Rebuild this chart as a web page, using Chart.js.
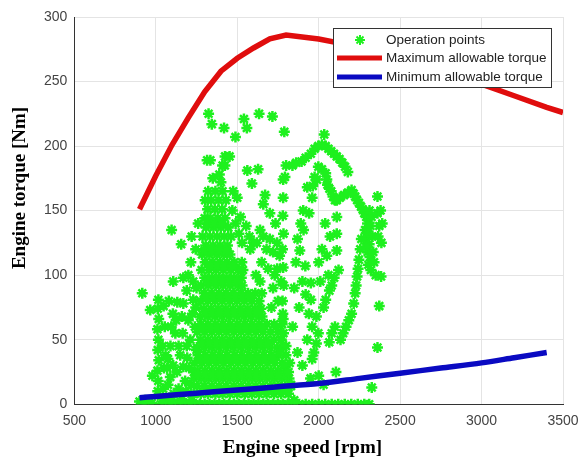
<!DOCTYPE html>
<html>
<head>
<meta charset="utf-8">
<script src="https://cdn.jsdelivr.net/npm/chart.js@4.4.1/dist/chart.umd.min.js"></script>
<style>
  body { margin: 0; background: #fff; }
</style>
</head>
<body>
<canvas id="myChart" width="580" height="459"></canvas>
<script>
// tick values
const speedTicks = [500, 1000, 1500, 2000, 2500, 3000, 3500];
const torqueTicks = [0, 50, 100, 150, 200, 250, 300];

// maximum allowable torque curve
const maxSpeed = [900, 1000, 1100, 1200, 1300, 1400, 1500, 1600, 1700, 1800, 2000, 2200, 2400, 2600, 2800, 3000, 3200, 3400, 3500];
const maxTorque = [151, 177, 201, 222, 242, 258, 268, 276, 283, 286, 283, 278, 272, 265, 257, 248, 239, 230, 226];

// minimum allowable torque curve
const minSpeed = [900, 1000, 1250, 1500, 1750, 2000, 2250, 2500, 2750, 3000, 3200, 3400];
const minTorque = [5, 6, 8.5, 11, 13.5, 16, 20, 24, 28, 32, 36, 40];

// operation points [speed, torque]
const opPoints = [
  // bottom row
  [900,2],[915,0],[935,3],[955,0],[975,1],[1030,0],[1060,0],[1090,0],[1120,0],[1150,0],
  [1180,0],[1210,0],[1240,0],[1270,0],[1300,0],[1330,0],[1360,0],[1390,0],[1420,0],[1450,0],
  [1480,0],[1510,0],[1540,0],[1570,0],[1600,0],[1630,0],[1660,0],[1690,0],[1720,0],[1750,0],
  [1780,0],[1810,0],[1840,0],[1880,0],[1920,0],[1960,0],[2000,0],[2040,0],[2080,0],[2120,0],
  [2160,0],[2200,0],[2240,0],[2280,0],[2310,0],
  [1040,4],[1100,3],[1160,4],[1220,3],[1850,3],
  // left column
  [1012,10],[1015,18],[1010,26],[1018,34],[1012,42],[1016,50],[1010,58],[1018,66],[1012,74],[1016,81],
  [1045,12],[1050,28],[1042,45],[1055,60],[1048,76],[1060,38],
  // scattered left
  [917,86],[966,73],[979,22],[1089,21],[1107,30],[1169,29],[1150,38],[1193,36],[1212,50],[1200,65],
  [1132,79],[1169,78],[1230,81],[1107,95],[1169,98],[1097,135],[1156,124],[1120,55],[1090,45],[1140,12],
  [1180,18],[1235,25],[1250,42],[1105,70],[1240,60],[1190,88],
  [1075,15],[1110,8],[1130,25],[1075,35],[1095,60],[1140,45],[1165,55],[1185,10],[1205,28],[1215,15],
  [1190,45],[1160,68],[1225,70],[1080,80],[1125,65],[1200,100],[1215,110],[1230,95],[1245,120],[1220,130],
  [1260,140],[1250,90],[1245,75],[1070,28],[1085,5],
  // dense core
  [1232,8],[1276,8],[1320,8],[1366,8],[1410,8],[1455,8],[1500,8],[1546,8],[1590,8],[1634,8],[1680,8],[1726,8],[1770,8],[1815,8],
  [1254,14],[1298,14],[1343,14],[1388,14],[1432,14],[1478,14],[1522,14],[1568,14],[1612,14],[1657,14],[1702,14],[1748,14],[1793,14],[1830,14],
  [1235,20],[1280,20],[1324,20],[1369,20],[1413,20],[1458,20],[1503,20],[1549,20],[1593,20],[1638,20],[1683,20],[1728,20],[1774,20],[1818,20],
  [1256,26],[1301,26],[1346,26],[1390,26],[1435,26],[1481,26],[1526,26],[1570,26],[1615,26],[1660,26],[1706,26],[1751,26],[1796,26],
  [1238,32],[1283,32],[1327,32],[1372,32],[1416,32],[1462,32],[1506,32],[1551,32],[1596,32],[1641,32],[1686,32],[1731,32],[1777,32],[1822,32],
  [1259,38],[1304,38],[1349,38],[1393,38],[1438,38],[1484,38],[1529,38],[1574,38],[1618,38],[1663,38],[1709,38],[1754,38],[1799,38],
  [1252,44],[1297,44],[1342,44],[1386,44],[1431,44],[1476,44],[1521,44],[1566,44],[1611,44],[1656,44],[1701,44],[1746,44],[1782,44],
  [1274,50],[1319,50],[1364,50],[1408,50],[1453,50],[1499,50],[1543,50],[1588,50],[1633,50],[1678,50],[1724,50],[1768,50],
  [1255,56],[1300,56],[1345,56],[1389,56],[1434,56],[1479,56],[1524,56],[1569,56],[1614,56],[1659,56],[1704,56],[1750,56],
  [1277,62],[1322,62],[1367,62],[1411,62],[1456,62],[1502,62],[1546,62],[1591,62],[1636,62],[1681,62],[1727,62],[1776,62],
  [1272,68],[1317,68],[1362,68],[1406,68],[1451,68],[1497,68],[1541,68],[1586,68],[1631,68],[1652,68],
  [1294,74],[1339,74],[1384,74],[1428,74],[1473,74],[1519,74],[1563,74],[1608,74],[1645,74],
  [1275,80],[1320,80],[1365,80],[1409,80],[1454,80],[1500,80],[1544,80],[1589,80],[1634,80],
  [1297,86],[1342,86],[1387,86],[1431,86],[1476,86],[1522,86],[1566,86],[1611,86],[1650,86],
  [1278,92],[1323,92],[1368,92],[1412,92],[1457,92],[1503,92],[1530,92],
  [1300,98],[1345,98],[1390,98],[1434,98],[1479,98],[1525,98],
  [1281,104],[1326,104],[1371,104],[1415,104],[1460,104],[1506,104],[1535,104],
  [1303,110],[1348,110],[1393,110],[1437,110],[1482,110],[1528,110],
  [1284,116],[1329,116],[1374,116],[1418,116],[1455,116],
  [1306,123],[1351,123],[1396,123],[1440,123],
  [1287,130],[1332,130],[1377,130],[1421,130],[1462,130],
  [1309,137],[1354,137],[1399,137],[1445,137],
  [1300,144],[1335,144],[1380,144],[1425,144],
  [1318,151],[1362,151],[1408,151],
  [1303,158],[1340,158],[1385,158],[1430,158],
  [1322,165],[1366,165],[1410,165],
  // core fill between rows
  [1300,11],[1345,11],[1390,11],[1435,11],[1480,11],[1525,11],[1570,11],[1615,11],[1660,11],[1705,11],[1750,11],
  [1260,23],[1305,23],[1350,23],[1395,23],[1440,23],[1485,23],[1530,23],[1575,23],[1620,23],[1665,23],[1710,23],[1755,23],[1800,23],
  [1270,35],[1315,35],[1360,35],[1405,35],[1450,35],[1495,35],[1540,35],[1585,35],[1630,35],[1675,35],[1720,35],
  [1285,47],[1330,47],[1375,47],[1420,47],[1465,47],[1510,47],[1555,47],[1600,47],[1645,47],[1690,47],
  [1290,59],[1335,59],[1380,59],[1425,59],[1470,59],[1515,59],[1560,59],[1605,59],[1650,59],
  [1305,71],[1350,71],[1395,71],[1440,71],[1485,71],[1530,71],[1575,71],[1620,71],
  [1310,83],[1355,83],[1400,83],[1445,83],[1490,83],[1535,83],[1580,83],
  [1320,95],[1365,95],[1410,95],[1455,95],[1500,95],
  [1335,107],[1380,107],[1425,107],[1470,107],
  [1300,119],[1345,119],[1390,119],[1435,119],
  [1315,140],[1360,140],[1405,140],
  // upper cluster
  [1390,178],[1400,172],[1410,185],[1425,192],[1470,150],[1490,140],[1510,132],[1530,125],[1520,145],[1555,138],
  [1575,130],[1600,125],[1580,120],[1350,175],[1335,189],[1315,189],[1453,192],[1424,185],[1562,181],[1628,182],
  [1590,171],[1671,162],[1475,165],[1500,160],
  // isolated top
  [1324,225],[1344,217],[1419,214],[1489,207],[1541,221],[1559,214],[1634,225],[1716,223],[1789,211],[2034,209],
  // middle 1600-1800
  [1620,125],[1640,135],[1660,130],[1680,120],[1700,128],[1720,118],[1745,125],[1760,115],[1650,110],[1690,105],
  [1730,100],[1770,95],[1720,90],[1750,80],[1780,70],[1710,75],[1740,60],[1770,50],[1800,45],[1760,40],
  [1790,30],[1815,25],[1830,15],[1800,10],[1735,140],[1700,148],[1660,155],[1782,174],[1782,160],[1780,146],
  [1784,132],[1778,120],[1782,106],[1785,92],[1778,80],[1782,66],[1784,55],[1640,95],[1615,100],[1745,105],
  // arc
  [1800,185],[1839,185],[1862,187],[1895,188],[1920,191],[1952,194],[1975,198],[1998,200],[2020,201],[2043,200],
  [2060,198],[2077,196],[2094,194],[2111,192],[2128,190],[2145,187],[2162,184],[2179,180],[1793,176],
  [1998,184],[2020,182],[2043,179],[2050,174],[2054,170],[2066,167],[2077,165],[2088,161],[2100,158],[1975,176],
  [1964,169],[1990,174],
  [2111,158],[2130,160],[2156,162],[2180,164],[2202,166],[2215,163],[2224,161],[2236,158],[2247,156],[2260,153],
  [2270,151],
  // right cluster
  [2280,148],[2292,145],[2300,140],[2285,135],[2305,132],[2295,128],[2310,124],[2300,118],[2315,114],[2305,108],
  [2320,104],[2290,122],[2318,138],[2325,145],[2330,130],[2335,118],[2312,150],[2361,161],[2361,148],[2372,138],
  [2365,130],[2380,150],[2390,140],[2385,125],[2383,99],[2372,76],[2361,44],[2326,13],[2340,110],[2350,100],
  // vertical stream
  [1907,135],[1941,148],[1884,119],[1918,107],[1952,94],[1952,81],[1986,68],[1998,55],[1986,47],[1960,160],
  [1930,168],[1905,150],[1890,140],[1870,128],[1900,95],[1920,85],[1880,75],[1940,70],[1960,60],[1930,50],
  [1970,40],[1860,110],[1850,90],[1840,60],[1870,40],[1900,30],[1950,20],[2000,22],[2030,15],[1960,35],
  // diagonal stream
  [2134,50],[2150,55],[2168,60],[2185,65],[2202,70],[2215,78],[2224,86],[2230,92],[2236,99],[2242,105],
  [2247,112],[2255,120],[2262,128],
  [2111,145],[2111,132],[2111,119],[2122,104],[2066,88],[2043,81],[2080,92],[2095,98],[2030,75],[2106,25],
  [2060,100],[2050,115],[2070,130],[2040,140],[2020,120],[2000,110],[2010,95],[2100,60],[2080,55],[2065,48]
];

const labels = ['Operation points', 'Maximum allowable torque', 'Minimum allowable torque'];
const xTitle = 'Engine speed [rpm]';
const yTitle = 'Engine torque [Nm]';

const toXY = (xs, ys) => xs.map((x, i) => ({x: x, y: ys[i]}));

function drawStar(ctx, x, y, r) {
  const d = r * 0.7;
  ctx.beginPath();
  ctx.moveTo(x, y - r); ctx.lineTo(x, y + r);
  ctx.moveTo(x - r, y); ctx.lineTo(x + r, y);
  ctx.moveTo(x - d, y - d); ctx.lineTo(x + d, y + d);
  ctx.moveTo(x - d, y + d); ctx.lineTo(x + d, y - d);
  ctx.stroke();
}

// axis titles and legend drawn inside the plot, top right
const decorations = {
  id: 'decorations',
  afterDraw(chart) {
    const ctx = chart.ctx;
    const area = chart.chartArea;
    ctx.save();
    // axis titles
    ctx.fillStyle = '#000';
    ctx.font = 'bold 19px "Liberation Serif", "Times New Roman", serif';
    ctx.textAlign = 'center';
    ctx.textBaseline = 'middle';
    ctx.fillText(xTitle, area.left + 228, area.bottom + 44);
    ctx.save();
    ctx.translate(area.left - 54, area.top + 171);
    ctx.rotate(-Math.PI / 2);
    ctx.fillText(yTitle, 0, 0);
    ctx.restore();

    // legend
    const w = 218, h = 59;
    const left = area.right - 12 - w, top = area.top + 11;
    ctx.fillStyle = '#fff';
    ctx.fillRect(left, top, w, h);
    ctx.strokeStyle = '#333';
    ctx.lineWidth = 1;
    ctx.strokeRect(left + 0.5, top + 0.5, w, h);
    ctx.font = '13.5px "Liberation Sans", Arial, sans-serif';
    ctx.textAlign = 'left';
    const rows = [top + 12, top + 30, top + 49];
    chart.data.datasets.forEach((ds, i) => {
      const y = rows[i];
      ctx.strokeStyle = ds.borderColor;
      if (i === 0) {
        ctx.lineWidth = 2;
        drawStar(ctx, left + 27, y, 5);
      } else {
        ctx.lineWidth = 5;
        ctx.beginPath();
        ctx.moveTo(left + 4, y);
        ctx.lineTo(left + 49, y);
        ctx.stroke();
      }
      ctx.fillStyle = '#222';
      ctx.fillText(ds.label, left + 53, y);
    });
    ctx.restore();
  }
};

const ctx = document.getElementById('myChart').getContext('2d');
const myChart = new Chart(ctx, {
  type: 'scatter',
  data: {
    datasets: [{
      label: labels[0],
      data: opPoints.map(p => ({x: p[0], y: p[1]})),
      pointStyle: 'star',
      pointRadius: 5.5,
      borderColor: '#1ef01e',
      backgroundColor: '#1ef01e',
      borderWidth: 2.5,
      order: 2
    }, {
      label: labels[1],
      data: toXY(maxSpeed, maxTorque),
      showLine: true,
      pointRadius: 0,
      borderColor: '#e00d0d',
      borderWidth: 5.5,
      order: 1
    }, {
      label: labels[2],
      data: toXY(minSpeed, minTorque),
      showLine: true,
      pointRadius: 0,
      borderColor: '#0a0ac2',
      borderWidth: 5.5,
      tension: 0.3,
      order: 0
    }]
  },
  options: {
    responsive: false,
    animation: false,
    layout: { padding: { left: 37, right: 17, top: 17, bottom: 20 } },
    plugins: {
      legend: { display: false },
      tooltip: { enabled: false }
    },
    scales: {
      x: {
        min: 500,
        max: 3500,
        afterBuildTicks: axis => { axis.ticks = speedTicks.map(v => ({value: v})); },
        afterFit: axis => { axis.paddingRight = 0; },
        ticks: { color: '#444', font: { family: '"Liberation Sans", Arial', size: 14 }, padding: 9, callback: v => String(v) },
        grid: { color: '#e4e4e4', drawTicks: false },
        border: { color: '#333', width: 1 }
      },
      y: {
        min: 0,
        max: 300,
        afterBuildTicks: axis => { axis.ticks = torqueTicks.map(v => ({value: v})); },
        ticks: { color: '#444', font: { family: '"Liberation Sans", Arial', size: 14 }, padding: 7, callback: v => String(v) },
        grid: { color: '#e4e4e4', drawTicks: false },
        border: { color: '#333', width: 1 }
      }
    }
  },
  plugins: [decorations]
});
</script>
</body>
</html>
